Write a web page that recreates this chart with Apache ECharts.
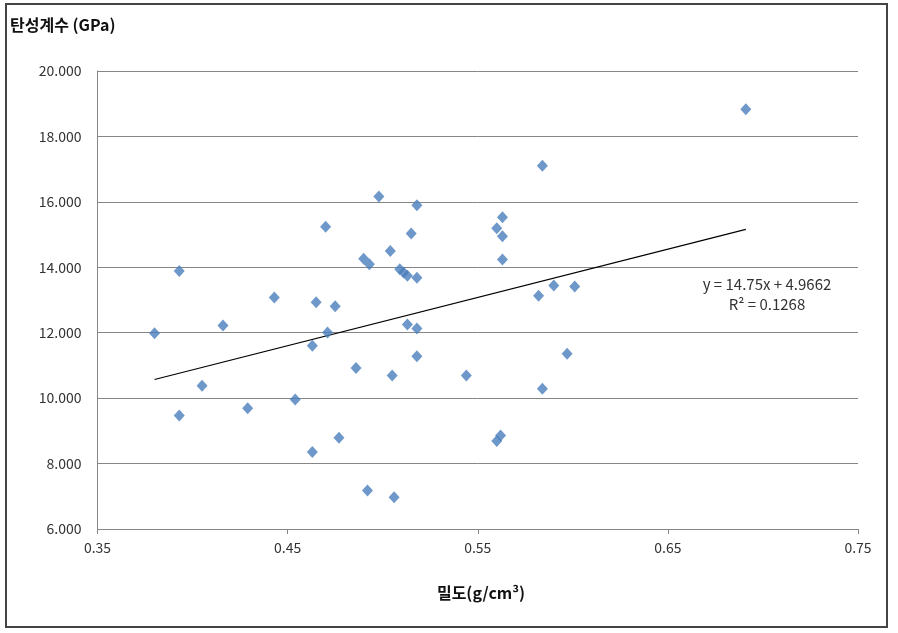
<!DOCTYPE html>
<html><head><meta charset="utf-8">
<script src="https://cdn.jsdelivr.net/npm/echarts@6/dist/echarts.min.js"></script>
<style>html,body{margin:0;padding:0;background:#fff}#c{width:898px;height:633px}</style>
</head><body><div id="c"></div>
<script>
// Density (g/cm3)
const density = [0.380,0.393,0.393,0.405,0.416,0.429,0.443,0.454,0.463,0.463,0.465,0.470,0.471,0.475,0.477,0.486,0.490,0.492,0.493,0.498,0.504,0.505,0.506,0.509,0.511,0.513,0.513,0.515,0.518,0.518,0.518,0.518,0.544,0.560,0.563,0.563,0.563,0.562,0.560,0.582,0.584,0.584,0.590,0.597,0.601,0.691];
// Elastic modulus (GPa)
const modulus = [11.98,13.89,9.47,10.38,12.22,9.69,13.08,9.96,11.60,8.35,12.93,15.24,12.01,12.81,8.79,10.92,14.26,7.18,14.09,16.16,14.50,10.69,6.97,13.94,13.84,13.74,12.25,15.03,15.90,13.68,12.13,11.28,10.69,15.19,15.53,14.95,14.24,8.86,8.69,13.13,17.10,10.29,13.44,11.36,13.41,18.83];
// Trend line endpoints
const trendX = [0.380, 0.691];
const trendY = [10.57, 15.16];
const xTicks = [0.35, 0.45, 0.55, 0.65, 0.75];
const yTicks = [6, 8, 10, 12, 14, 16, 18, 20];
const equationText = 'y = 14.75x + 4.9662';
const r2Text = 'R² = 0.1268';
const yTitle = '탄성계수 (GPa)';
const xTitle = '밀도(g/cm³)';

const pts = density.map((d, i) => [d, modulus[i]]);
const trend = trendX.map((d, i) => [d, trendY[i]]);
const font = '"Noto Sans CJK KR", "Open Sans", sans-serif';

const chart = echarts.init(document.getElementById('c'));
chart.setOption({
  animation: false,
  grid: { left: 97.5, right: 40, top: 71, bottom: 104 },
  xAxis: {
    type: 'value', min: xTicks[0], max: xTicks[xTicks.length - 1], interval: 0.1,
    axisLine: { lineStyle: { color: '#868686', width: 1 } },
    axisTick: { show: true, length: 5, inside: false, lineStyle: { color: '#868686' } },
    splitLine: { show: false },
    axisLabel: { color: '#333', fontSize: 14, fontFamily: font, margin: 12,
      formatter: v => v.toFixed(2) }
  },
  yAxis: {
    type: 'value', min: yTicks[0], max: yTicks[yTicks.length - 1], interval: 2,
    axisLine: { show: true, lineStyle: { color: '#868686', width: 1 } },
    axisTick: { show: false },
    splitLine: { lineStyle: { color: '#868686', width: 1 } },
    axisLabel: { color: '#333', fontSize: 14, fontFamily: font, margin: 16,
      formatter: v => v.toFixed(3) }
  },
  series: [
    { type: 'scatter', data: pts, symbol: 'diamond', symbolSize: [11, 12],
      itemStyle: { color: '#4A7EBB' }, z: 3 },
    { type: 'line', data: trend, symbol: 'none', lineStyle: { color: '#000', width: 1.2 }, z: 2 }
  ],
  graphic: [
    { type: 'rect', shape: { x: 6, y: 4, width: 881, height: 623 },
      style: { fill: 'none', stroke: '#444', lineWidth: 2 }, silent: true },
    { type: 'text', x: 10, y: 25, style: { text: yTitle, font: 'bold 16px ' + font, fill: '#111', textVerticalAlign: 'middle' } },
    { type: 'text', x: 481, y: 593, style: { text: xTitle, font: 'bold 16px ' + font, fill: '#111', textAlign: 'center', textVerticalAlign: 'middle' } },
    { type: 'text', x: 767, y: 284, style: { text: equationText, font: '15px ' + font, fill: '#333', textAlign: 'center', textVerticalAlign: 'middle' } },
    { type: 'text', x: 767, y: 304, style: { text: r2Text, font: '15px ' + font, fill: '#333', textAlign: 'center', textVerticalAlign: 'middle' } }
  ]
});
</script></body></html>
